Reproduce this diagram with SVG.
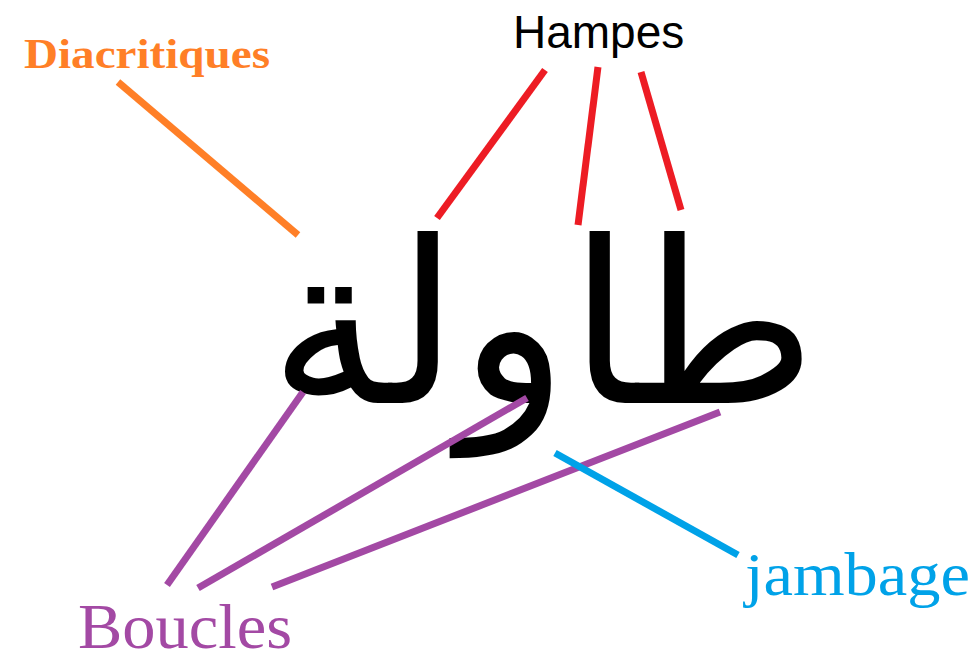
<svg xmlns="http://www.w3.org/2000/svg" width="976" height="663" viewBox="0 0 976 663">
<style>
.ln{fill:none;stroke-width:7;stroke-linecap:butt}
.or{stroke:#ff7f27}.rd{stroke:#ed1c24}.pu{stroke:#a349a4}.bl{stroke:#00a2e8}
.serif{font-family:"Liberation Serif","DejaVu Serif",serif}
</style>
<rect width="976" height="663" fill="#ffffff"/>
<g id="word">
<text x="543" y="403" text-anchor="middle" font-family="'DejaVu Sans',sans-serif" font-size="226" fill="#000" direction="rtl">طاولة</text>
</g>
<g id="connectors">
<line class="ln or" x1="118" y1="82" x2="298" y2="235"/>
<line class="ln rd" x1="545" y1="70" x2="437" y2="218"/>
<line class="ln rd" x1="598" y1="67" x2="578" y2="225"/>
<line class="ln rd" x1="641" y1="72" x2="681" y2="210"/>
<line class="ln pu" x1="303" y1="392" x2="167" y2="585"/>
<line class="ln pu" x1="527" y1="398" x2="198" y2="588"/>
<line class="ln pu" x1="720" y1="412" x2="272" y2="587"/>
<line class="ln bl" x1="555" y1="453" x2="738" y2="555"/>
</g>
<g id="diacritiques">
<text class="serif" x="24" y="68" font-size="42" font-weight="bold" fill="#ff7f27" textLength="246" lengthAdjust="spacingAndGlyphs">Diacritiques</text>
</g>
<g id="hampes">
<text x="513" y="48" font-family="'Liberation Sans',Arial,sans-serif" font-size="46" fill="#000">Hampes</text>
</g>
<g id="boucles">
<text class="serif" x="78" y="648" font-size="64" fill="#a349a4" textLength="214" lengthAdjust="spacingAndGlyphs">Boucles</text>
</g>
<g id="jambage">
<text class="serif" x="745" y="595" font-size="62" fill="#00a2e8" textLength="225" lengthAdjust="spacingAndGlyphs">jambage</text>
</g>
</svg>
